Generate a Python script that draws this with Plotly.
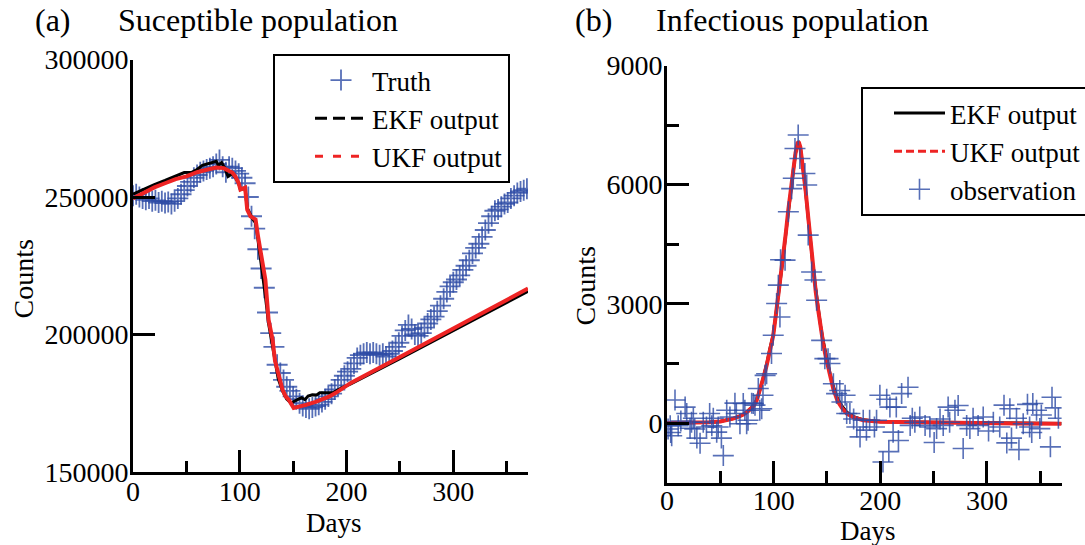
import plotly.graph_objects as go

# ---------------- data : panel (a) susceptible population ----------------
truth_days = [0, 3, 6, 9, 12, 15, 18, 21, 24, 27, 30, 33, 36, 39, 42, 45, 48, 51, 54, 57,
              60, 63, 66, 69, 72, 75, 78, 81, 84, 87, 90, 93, 96, 99, 102, 105, 108, 111, 114, 117,
              120, 123, 126, 129, 132, 135, 138, 141, 144, 147, 150, 153, 156, 159, 162, 165, 168, 171, 174, 177,
              180, 183, 186, 189, 192, 195, 198, 201, 204, 207, 210, 213, 216, 219, 222, 225, 228, 231, 234, 237,
              240, 243, 246, 249, 252, 255, 258, 261, 264, 267, 270, 273, 276, 279, 282, 285, 288, 291, 294, 297,
              300, 303, 306, 309, 312, 315, 318, 321, 324, 327, 330, 333, 336, 339, 342, 345, 348, 351, 354, 357,
              360, 363, 366, 369]
truth_vals = [250500, 251000, 250000, 249500, 249000, 249500, 248500, 248800, 248000, 248500,
              247800, 248200, 247500, 248500, 249500, 251000, 252500, 254000, 255500, 257000,
              258000, 259000, 259500, 260000, 260500, 261000, 262000, 263500, 261000, 259000,
              261000, 260500, 259500, 258500, 257000, 255000, 250000, 243000, 238500, 231000,
              224000, 217000, 208000, 200500, 195500, 189000, 186000, 183500, 181000, 179500,
              177500, 176500, 175000, 174000, 173500, 173000, 173500, 174000, 174500, 175500,
              176500, 177500, 178500, 180000, 181500, 183500, 185000, 186500, 187500, 189500,
              191500, 192500, 193000, 193500, 193000, 193500, 193000, 192500, 193000, 192000,
              193000, 194000, 195500, 197000, 199500, 201500, 203500, 202000, 200000, 199500,
              200500, 202500, 204000, 205500, 206500, 208500, 210500, 213000, 215500, 217500,
              219000, 220000, 221500, 223500, 225000, 227000, 229500, 231500, 233000, 235500,
              238000, 240500, 243000, 245000, 245500, 246500, 247500, 248000, 249500, 250500,
              251500, 252000, 252500, 253000]

ekf_s_days = [0, 10, 20, 30, 40, 48, 55, 60, 65, 70, 75, 78, 80, 83, 86, 89, 93, 96, 99, 100.6,
              103, 105, 107, 110, 112, 115, 118, 121, 124, 127, 130, 133, 136, 140, 144, 148, 152, 155, 158, 161,
              164, 168, 172, 175, 180, 187, 195, 204, 250, 300, 356, 370]
ekf_s_vals = [251000, 252800, 254500, 256000, 257500, 258900, 259000, 260000, 261500, 262000,
              262500, 263000, 261500, 262500, 260500, 257500, 258500, 257000, 255000, 252700,
              253000, 253000, 246000, 243500, 242000, 240500, 232000, 223000, 214000, 204000,
              197000, 190000, 184000, 179500, 176500, 175100, 176000, 176500, 177000, 176300,
              177600, 178100, 178000, 178800, 178800, 178800, 180500, 182000, 191200, 201500,
              212800, 215700]

ukf_s_days = [0, 10, 20, 30, 40, 50, 60, 70, 78, 85, 88, 93, 96, 99, 100.6, 103, 105, 107, 110, 112,
              114.8, 117, 119.5, 122, 124, 127, 130.8, 133, 135, 138, 140, 143, 146, 150.5, 155, 162, 171, 183, 190, 204,
              250, 300, 356, 370]
ukf_s_vals = [249500, 251500, 253500, 255000, 256500, 257500, 259000, 260000, 260700, 260500,
              260000, 258900, 257400, 255000, 252700, 253000, 253400, 245400, 243000, 242500,
              241800, 236000, 230800, 225000, 219900, 205400, 198000, 190500, 187200, 182500,
              180000, 177500, 176200, 173300, 173600, 174400, 175500, 177300, 178800, 182400,
              191800, 202100, 213700, 216700]

# ---------------- data : panel (b) infectious population ----------------
curve_days = [0, 20, 40, 50, 56, 62, 68, 72, 76, 81, 84, 87, 90, 93.4, 96, 99.6, 102, 104.3, 107, 109,
              111.5, 113.7, 116, 118.4, 120.5, 122.5, 123.5, 125, 127.6, 130, 132.4, 135, 137, 139.5, 141.8, 144, 146.5, 149, 152.8, 156,
              160, 164, 168.4, 175, 184, 200, 250, 300, 370]
ukf_i_vals = [0, 5, 20, 40, 70, 110, 170, 220, 300, 420, 560, 800, 1100, 1450, 1800, 2200, 2700, 3170, 3700, 4180,
              4800, 5360, 5900, 6370, 6800, 7050, 7080, 6950, 6450, 5850, 5190, 4450, 3850, 3300, 2840, 2400, 2000, 1650, 1180, 850,
              550, 380, 240, 140, 70, 30, 10, 5, -20]
ekf_i_vals = [0, 5, 20, 40, 70, 110, 170, 220, 300, 430, 580, 820, 1120, 1470, 1820, 2220, 2720, 3180, 3700, 4180,
              4790, 5340, 5880, 6350, 6780, 7020, 7050, 6930, 6440, 5850, 5200, 4470, 3880, 3340, 2880, 2450, 2060, 1720, 1250, 920,
              610, 430, 280, 160, 80, 30, 10, 5, -10]

obs_days = [1, 3, 3.5, 4.4, 7.5, 10.5, 13, 17, 18.5, 21.6, 23, 24.7, 26, 28, 31, 34, 37, 40, 42, 43.4,
            46.6, 48, 51, 52.8, 56, 59, 63.7, 65, 68.4, 71.5, 73, 74.7, 76, 79.4, 80.9, 82.5, 85.6, 87, 88.8, 90,
            92, 93.4, 98, 99.6, 102.8, 104.4, 105.9, 106.5, 110.7, 113.8, 116.9, 118.4, 120, 123, 124.6, 129.3, 131, 132.4, 135.6, 138.7,
            140.3, 145, 148, 151, 152.8, 156, 159, 162, 164, 167, 168.5, 171.5, 175, 178, 181, 184, 187, 190, 194.5, 196.5,
            199.6, 202.5, 206, 208, 209, 212, 215, 217, 220, 226, 228, 230, 232.4, 237, 242, 246.5, 250.5, 252.8, 256, 259,
            263.6, 265, 270, 273, 277.7, 281, 284, 287, 291.7, 296.5, 301.5, 306, 312, 316, 318.6, 321.5, 323, 327.7, 330, 334,
            338, 340, 342, 343, 346.5, 349.6, 351, 359.5, 361, 364, 367]
obs_vals = [-150, -70, -240, -320, 580, -70, 50, 400, 240, -130, 20, 120, -150, -380, -510, 20, -100, 240, -70, 120,
            -230, -100, -380, -820, 320, 150, 500, 240, -20, 490, 320, -20, 70, 500, 490, 450, 870, 320, 360, 700,
            1200, 1240, 1750, 2210, 3010, 3470, 2670, 4110, 4100, 5320, 5900, 6160, 6910, 7250, 6660, 6280, 5990, 4730, 3800, 3600,
            3090, 2080, 1620, 1620, 1500, 990, 740, 820, 530, 700, 240, 240, 100, -100, -350, 70, -180, 70, -100, 70,
            700, -980, 600, -720, 400, -230, 400, -440, 740, 900, -60, 120, 20, 150, -60, -100, -490, -140, 100, -60,
            400, 20, 320, 440, -640, -60, -140, 120, -60, 150, -200, 20, -100, 450, -500, 360, -380, 120, -670, -20,
            470, -100, -240, 490, 320, -140, 200, -600, 650, 380, 120]

s_ticks = [150000, 200000, 250000, 300000]
s_ticktext = ["150000", "200000", "250000", "300000"]
i_ticks = [0, 3000, 6000, 9000]
i_ticktext = ["0", "3000", "6000", "9000"]
day_ticks = [0, 100, 200, 300]
day_ticktext = ["0", "100", "200", "300"]

FONT = "Liberation Serif"
BLUE = "rgba(45,75,165,0.8)"
RED = "#ee2424"

W, H = 1085, 545
fig = go.Figure()

# ---- panel (a) ----
fig.add_trace(go.Scatter(x=truth_days, y=truth_vals, mode="markers", name="Truth",
                         marker=dict(symbol="cross-thin", size=15, line=dict(width=1.8, color=BLUE)),
                         xaxis="x", yaxis="y", legend="legend"))
fig.add_trace(go.Scatter(x=ekf_s_days, y=ekf_s_vals, mode="lines", showlegend=False,
                         line=dict(color="black", width=3), xaxis="x", yaxis="y"))
fig.add_trace(go.Scatter(x=ukf_s_days, y=ukf_s_vals, mode="lines", showlegend=False,
                         line=dict(color=RED, width=4), xaxis="x", yaxis="y"))
fig.add_trace(go.Scatter(x=[None], y=[None], mode="lines", name="EKF output",
                         line=dict(color="black", width=3, dash="12px,6px"), xaxis="x", yaxis="y", legend="legend"))
fig.add_trace(go.Scatter(x=[None], y=[None], mode="lines", name="UKF output",
                         line=dict(color=RED, width=3, dash="8px,10px"), xaxis="x", yaxis="y", legend="legend"))

# ---- panel (b) ----
fig.add_trace(go.Scatter(x=curve_days, y=ekf_i_vals, mode="lines", name="EKF output",
                         line=dict(color="black", width=3), xaxis="x2", yaxis="y2", legend="legend2"))
fig.add_trace(go.Scatter(x=curve_days, y=ukf_i_vals, mode="lines", showlegend=False,
                         line=dict(color=RED, width=4), xaxis="x2", yaxis="y2"))
fig.add_trace(go.Scatter(x=[None], y=[None], mode="lines", name="UKF output",
                         line=dict(color=RED, width=3, dash="8px,4px"), xaxis="x2", yaxis="y2", legend="legend2"))
fig.add_trace(go.Scatter(x=obs_days, y=obs_vals, mode="markers", name="observation",
                         marker=dict(symbol="cross-thin", size=15, line=dict(width=1.6, color=BLUE)),
                         xaxis="x2", yaxis="y2", legend="legend2"))

axis_common = dict(showgrid=False, zeroline=False, showline=True, linecolor="black", linewidth=3,
                   ticks="inside", ticklen=22, tickwidth=3, tickcolor="black",
                   tickfont=dict(family=FONT, size=28, color="black"))

fig.update_layout(
    width=W, height=H, margin=dict(l=0, r=0, t=0, b=0, autoexpand=False),
    paper_bgcolor="white", plot_bgcolor="white",
    font=dict(family=FONT, size=27, color="black"),
    xaxis=dict(domain=[133 / W, 528 / W], range=[0, 370], tickvals=day_ticks, ticktext=day_ticktext,
               anchor="y", ticklabelstandoff=-8,
               minor=dict(dtick=50, tick0=0, ticks="inside", ticklen=11, tickwidth=3, tickcolor="black"),
               **axis_common),
    yaxis=dict(domain=[1 - 472 / H, 1 - 59.5 / H], range=[150000, 300000], tickvals=s_ticks, ticktext=s_ticktext,
               anchor="x", ticklabelstandoff=-4, **axis_common),
    xaxis2=dict(domain=[667 / W, 1061.6 / W], range=[0, 370], tickvals=day_ticks, ticktext=day_ticktext,
                anchor="y2", ticklabelstandoff=-9,
                minor=dict(dtick=50, tick0=0, ticks="inside", ticklen=12, tickwidth=3, tickcolor="black"),
                **axis_common),
    yaxis2=dict(domain=[1 - 482.6 / H, 1 - 65.5 / H], range=[-1500, 9000], tickvals=i_ticks, ticktext=i_ticktext,
                anchor="x2", ticklabelstandoff=-4,
                minor=dict(dtick=1500, tick0=0, ticks="inside", ticklen=12, tickwidth=3, tickcolor="black"),
                **axis_common),
    legend=dict(x=273 / W, y=1 - 54 / H, xanchor="left", yanchor="top", bordercolor="black", borderwidth=2,
                bgcolor="white", font=dict(family=FONT, size=27, color="black"), itemwidth=52, indentation=35,
                tracegroupgap=0),
    legend2=dict(x=861 / W, y=1 - 87 / H, xanchor="left", yanchor="top", bordercolor="black", borderwidth=2,
                 bgcolor="white", font=dict(family=FONT, size=27, color="black"), itemwidth=51, indentation=26,
                 tracegroupgap=0),
)

ann = [
    dict(text="(a)", x=33 / W, y=1 - 20 / H, xanchor="left", yanchor="middle", size=32),
    dict(text="Suceptible population", x=116 / W, y=1 - 20 / H, xanchor="left", yanchor="middle", size=32),
    dict(text="(b)", x=573 / W, y=1 - 20 / H, xanchor="left", yanchor="middle", size=32),
    dict(text="Infectious population", x=654 / W, y=1 - 20 / H, xanchor="left", yanchor="middle", size=32),
    dict(text="Days", x=334 / W, y=1 - 523 / H, xanchor="center", yanchor="middle", size=27),
    dict(text="Days", x=867.5 / W, y=1 - 531 / H, xanchor="center", yanchor="middle", size=27),
]
for a in ann:
    fig.add_annotation(text=a["text"], x=a["x"], y=a["y"], xref="paper", yref="paper",
                       xanchor=a["xanchor"], yanchor=a["yanchor"], showarrow=False,
                       font=dict(family=FONT, size=a["size"], color="black"))
for xc, yc in [(22.5, 279), (585, 286.5)]:
    fig.add_annotation(text="Counts", x=xc / W, y=1 - yc / H, xref="paper", yref="paper",
                       xanchor="center", yanchor="middle", textangle=-90, showarrow=False,
                       font=dict(family=FONT, size=28, color="black"))

fig.write_html("out.html")
